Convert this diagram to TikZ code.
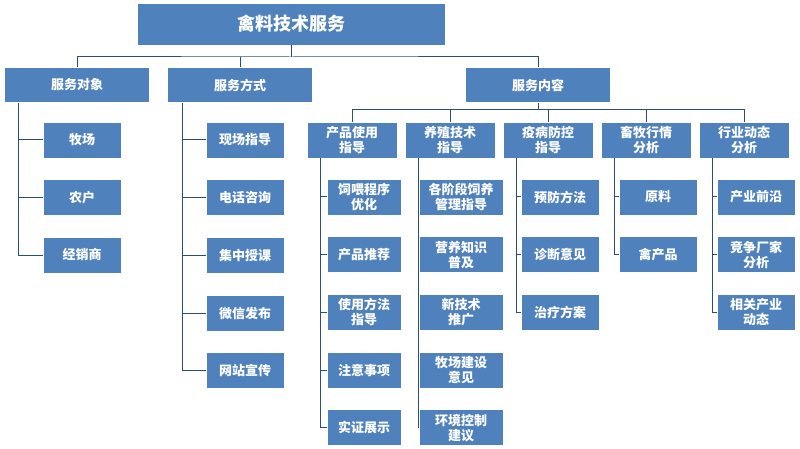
\documentclass[tikz,border=0pt]{standalone}
\usepackage{fontspec}
\newfontfamily\cjk{Noto Sans CJK SC}
\definecolor{boxblue}{HTML}{4F81BD}
\definecolor{linkblue}{HTML}{2C4D75}
\tikzset{
  box/.style={rectangle, draw=white, thick, fill=boxblue, text=white,
    font=\cjk\bfseries\fontsize{13}{15}\selectfont, align=center, inner sep=1pt},
  head/.style={box, minimum width=90pt, minimum height=36pt},
  leaf/.style={box, minimum width=78pt, minimum height=36pt},
  link/.style={draw=linkblue, line width=1pt}
}
\begin{document}
\begin{tikzpicture}[x=1pt,y=-1pt]
  \useasboundingbox (0,0) rectangle (800,449);

  \node[box, minimum width=308pt, minimum height=42pt,
    font=\cjk\bfseries\fontsize{18}{20}\selectfont] (top) at (291,24) {禽料技术服务};

  \node[box, minimum width=145pt, minimum height=35pt] (obj) at (77,85) {服务对象};
  \node[box, minimum width=145pt, minimum height=35pt] (way) at (240,85) {服务方式};
  \node[box, minimum width=145pt, minimum height=35pt] (cont) at (538,85) {服务内容};

  \coordinate (tj) at (291,57);
  \draw[link] (top.south) -- (tj);
  \draw[link] (obj.north) |- (tj) -| (cont.north);
  \draw[link] (way.north) -- (way.north |- tj);

  % service targets
  \foreach \t [count=\i] in {牧场,农户,经销商} {
    \node[leaf] (obj\i) at (82,140+57.5*\i-57.5) {\t};
    \draw[link] (obj.south -| 18,0) |- (obj\i.west);
  }

  % service ways
  \foreach \t [count=\i] in {现场指导,电话咨询,集中授课,微信发布,网站宣传} {
    \node[leaf] (way\i) at (245,140+57.7*\i-57.7) {\t};
    \draw[link] (way.south -| 182,0) |- (way\i.west);
  }

  % service content
  \coordinate (cj) at (538,110);
  \draw[link] (cont.south) -- (cj);
  \foreach \t/\x [count=\i] in {产品使用\\指导/352, 养殖技术\\指导/450, 疫病防控\\指导/548,
      畜牧行情\\分析/646, 行业动态\\分析/744} {
    \node[head] (c\i) at (\x,140) {\t};
    \draw[link] (cj) -| (c\i.north);
  }

  \foreach \t [count=\i] in {饲喂程序\\优化,产品推荐,使用方法\\指导,注意事项,实证展示} {
    \node[leaf, minimum width=74pt] (c1\i) at (364,197+57.7*\i-57.7) {\t};
    \draw[link] (c1.south -| 320,0) |- (c1\i.west);
  }
  \foreach \t [count=\i] in {各阶段饲养\\管理指导,营养知识\\普及,新技术\\推广,牧场建设\\意见,环境控制\\建议} {
    \node[leaf, minimum width=84pt] (c2\i) at (461,197+57.7*\i-57.7) {\t};
    \draw[link] (c2.south -| 418,0) |- (c2\i.west);
  }
  \foreach \t [count=\i] in {预防方法,诊断意见,治疗方案} {
    \node[leaf] (c3\i) at (560,197+57.7*\i-57.7) {\t};
    \draw[link] (c3.south -| 516,0) |- (c3\i.west);
  }
  \foreach \t [count=\i] in {原料,禽产品} {
    \node[leaf] (c4\i) at (658,197+57.7*\i-57.7) {\t};
    \draw[link] (c4.south -| 614,0) |- (c4\i.west);
  }
  \foreach \t [count=\i] in {产业前沿,竞争厂家\\分析,相关产业\\动态} {
    \node[leaf] (c5\i) at (756,197+57.7*\i-57.7) {\t};
    \draw[link] (c5.south -| 712,0) |- (c5\i.west);
  }
\end{tikzpicture}
\end{document}
